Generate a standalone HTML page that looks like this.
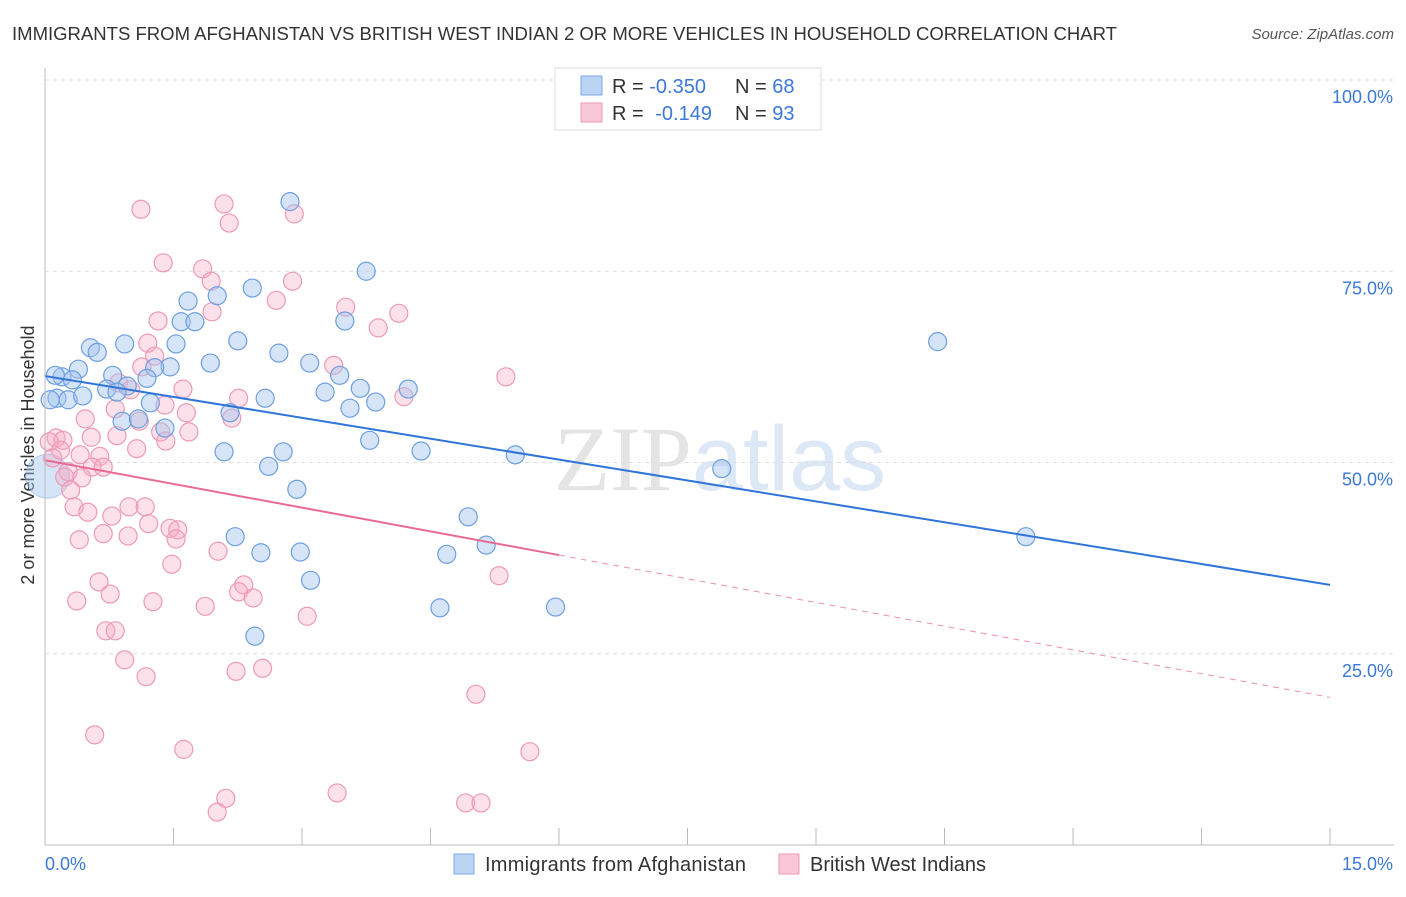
<!DOCTYPE html>
<html><head><meta charset="utf-8"><style>
body{margin:0;background:#fff;font-family:"Liberation Sans",sans-serif;}
svg text{font-family:"Liberation Sans",sans-serif;}
</style></head><body>
<svg id="chart" width="1406" height="892">
<text x="12" y="40" font-size="18" fill="#333" textLength="1105" lengthAdjust="spacingAndGlyphs">IMMIGRANTS FROM AFGHANISTAN VS BRITISH WEST INDIAN 2 OR MORE VEHICLES IN HOUSEHOLD CORRELATION CHART</text>
<text x="1394" y="39" font-size="15" fill="#555" font-style="italic" text-anchor="end">Source: ZipAtlas.com</text>
<text x="720" y="490" font-size="92" fill="#e4e4e4" text-anchor="middle"><tspan font-family="Liberation Serif">ZIP</tspan><tspan fill="#dde8f6" font-family="Liberation Sans">atlas</tspan></text>
<text transform="translate(34,455) rotate(-90)" font-size="18" fill="#333" text-anchor="middle">2 or more Vehicles in Household</text>
<g id="grid"></g><g id="pts"></g><g id="lines"></g><g id="axes"></g>
<g>
<rect x="555" y="68" width="266" height="62" fill="#fff" stroke="#ddd"/>
<rect x="581" y="76" width="21" height="19" fill="#bcd4f4" stroke="#7aaae6"/>
<rect x="581" y="103" width="21" height="19" fill="#f8c8d8" stroke="#ee9ab5"/>
<text x="612" y="93" font-size="20" fill="#333">R = <tspan fill="#3b78d8">-0.350</tspan></text>
<text x="735" y="93" font-size="20" fill="#333">N = <tspan fill="#3b78d8">68</tspan></text>
<text x="612" y="120" font-size="20" fill="#333">R = <tspan fill="#3b78d8" dx="6">-0.149</tspan></text>
<text x="735" y="120" font-size="20" fill="#333">N = <tspan fill="#3b78d8">93</tspan></text>
</g>
<g>
<rect x="454" y="854" width="20" height="20" fill="#bcd4f4" stroke="#7aaae6"/>
<text x="485" y="871" font-size="20" fill="#333" textLength="261">Immigrants from Afghanistan</text>
<rect x="779" y="854" width="20" height="20" fill="#f8c8d8" stroke="#ee9ab5"/>
<text x="810" y="871" font-size="20" fill="#333" textLength="176">British West Indians</text>
</g>
</svg>
<script>
const blueX=[2.86,3.75,2.42,1.67,2.01,1.59,1.75,3.50,10.42,2.25,1.53,0.93,0.53,0.61,2.73,1.93,3.09,1.46,1.28,0.39,0.20,0.79,1.19,3.44,0.32,0.96,0.72,0.84,3.68,4.24,3.27,0.14,0.27,0.44,1.23,2.57,3.86,3.56,2.16,0.90,1.09,1.40,3.79,2.09,2.78,4.39,5.49,2.61,7.90,2.94,4.94,11.45,2.22,5.15,2.52,2.98,4.69,3.10,4.61,5.96,2.45,0.06,0.12];
const blueY=[84.1,75.0,72.8,71.1,71.8,68.4,68.4,68.5,65.8,65.9,65.5,65.5,65.0,64.4,64.3,63.0,63.0,62.5,62.4,62.2,61.2,61.4,61.0,61.4,60.8,60.0,59.6,59.2,59.7,59.6,59.2,58.4,58.2,58.7,57.8,58.4,57.9,57.1,56.5,55.4,55.7,54.5,52.9,51.4,51.4,51.5,51.0,49.5,49.2,46.5,42.9,40.3,40.3,39.2,38.2,38.3,38.0,34.6,31.0,31.1,27.3,58.2,61.4];
const pinkX=[1.12,2.09,2.91,2.15,1.38,1.84,2.89,1.94,2.70,3.51,4.13,1.32,1.95,3.89,1.20,1.28,3.37,1.13,5.38,0.86,1.00,1.61,2.26,4.19,1.40,1.65,0.82,2.18,0.47,1.10,1.35,1.68,0.54,0.84,0.13,0.21,0.05,1.41,0.18,1.07,0.41,0.64,0.09,0.55,0.68,0.27,0.23,0.43,0.30,0.34,0.98,1.17,0.50,0.78,1.21,1.46,1.55,0.68,0.97,0.40,1.53,2.02,1.48,0.63,2.32,5.30,2.26,0.76,2.43,0.37,1.26,1.87,3.06,0.71,0.82,0.93,1.18,2.23,2.54,5.03,0.58,1.62,5.66,2.11,3.41,4.91,5.09,2.01];
const pinkY=[83.1,83.8,82.5,81.3,76.1,75.3,73.7,73.7,71.2,70.3,69.5,68.5,69.7,67.6,65.6,63.9,62.7,62.5,61.2,60.4,59.5,59.6,58.4,58.6,57.5,56.5,57.0,55.8,55.7,55.4,54.0,54.0,53.3,53.5,53.2,52.9,52.7,52.8,51.6,51.8,51.0,50.8,50.6,49.4,49.4,48.8,48.1,48.0,46.4,44.2,44.2,44.2,43.5,43.0,42.0,41.4,41.2,40.7,40.4,39.9,40.0,38.4,36.7,34.4,34.0,35.2,33.1,32.8,32.3,31.9,31.8,31.2,29.9,28.0,28.0,24.2,22.0,22.7,23.1,19.7,14.4,12.5,12.2,6.1,6.8,5.5,5.5,4.3];
const blueTrend=[61.3,34.0];
const pinkTrend=[50.3,19.3];
const pinkSolidEnd=6.0;
const yTicks=[25,50,75,100];
const yTickLabels=["25.0%","50.0%","75.0%","100.0%"];
const xTicks=[0,1.5,3,4.5,6,7.5,9,10.5,12,13.5,15];

const NS="http://www.w3.org/2000/svg";
const X=v=>45+v/15*1285, Y=v=>845-v*7.65;
function mk(tag,attrs,parent){const e=document.createElementNS(NS,tag);for(const k in attrs)e.setAttribute(k,attrs[k]);document.getElementById(parent).appendChild(e);return e;}
yTicks.forEach((t,i)=>{
  const g=mk('line',{x1:45,x2:1394,y1:Y(t),y2:Y(t),stroke:'#ddd','stroke-dasharray':'4,4'},'grid');
  
  
  const l=mk('text',{x:1393,y:Y(t)+23,'font-size':18,fill:'#3b78d8','text-anchor':'end'},'axes');
  l.textContent=yTickLabels[i];
  
  
});
const ax=mk('line',{x1:45,x2:45,y1:68,y2:845,stroke:'#bbb'},'axes');


const bx=mk('line',{x1:45,x2:1394,y1:845,y2:845,stroke:'#bbb'},'axes');


xTicks.forEach(t=>{
  const k=mk('line',{x1:X(t),x2:X(t),y1:828,y2:845,stroke:'#bbb'},'axes');
  
  
});
const x0=mk('text',{x:45,y:870,'font-size':18,fill:'#3b78d8'},'axes');x0.textContent='0.0%';


const x1=mk('text',{x:1393,y:870,'font-size':18,fill:'#3b78d8','text-anchor':'end'},'axes');x1.textContent='15.0%';



const big=mk('circle',{cx:X(0.03),cy:Y(48.2),r:22,fill:'rgba(164,196,240,0.45)',stroke:'rgba(122,170,230,0.5)'},'pts');


pinkX.forEach((v,i)=>{
  const c=mk('circle',{cx:X(v),cy:Y(pinkY[i]),r:9,fill:'rgba(245,170,195,0.35)',stroke:'#ee9ab5','stroke-width':1.2},'pts');
  
  
});
blueX.forEach((v,i)=>{
  const c=mk('circle',{cx:X(v),cy:Y(blueY[i]),r:9,fill:'rgba(164,196,240,0.45)',stroke:'#6d9fe0','stroke-width':1.2},'pts');
  
  
});
const bl=mk('line',{x1:X(0),y1:Y(blueTrend[0]),x2:X(15),y2:Y(blueTrend[1]),stroke:'#2f74d8','stroke-width':2},'lines');


const pAt=x=>pinkTrend[0]+(pinkTrend[1]-pinkTrend[0])*x/15;
const pl=mk('line',{x1:X(0),y1:Y(pinkTrend[0]),x2:X(pinkSolidEnd),y2:Y(pAt(pinkSolidEnd)),stroke:'#e86a94','stroke-width':2},'lines');


const pd=mk('line',{x1:X(pinkSolidEnd),y1:Y(pAt(pinkSolidEnd)),x2:X(15),y2:Y(pinkTrend[1]),stroke:'#eb8fae','stroke-width':1,'stroke-dasharray':'6,5'},'lines');


</script>
</body></html>
